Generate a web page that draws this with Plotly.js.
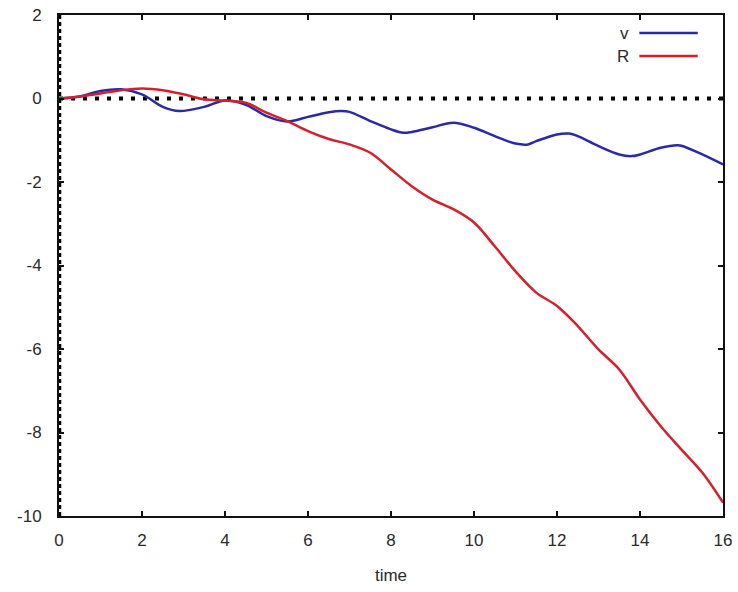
<!DOCTYPE html>
<html>
<head>
<meta charset="utf-8">
<script src="https://cdn.plot.ly/plotly-3.0.1.min.js"></script>
<style>html,body{margin:0;padding:0;background:#fff;}#chart{width:738px;height:592px;}</style>
</head>
<body>
<div id="chart"></div>
<script>
// Data
const timeV = [0, 0.5, 1, 1.5, 2, 2.5, 2.9, 3.5, 4, 4.5, 5, 5.5, 6, 6.5, 6.8, 7, 7.5, 8, 8.3, 8.5, 9, 9.5, 10, 10.5, 11, 11.3, 11.5, 12, 12.3, 12.5, 13, 13.5, 13.8, 14, 14.5, 14.9, 15, 15.5, 16];
const vValues = [0, 0.05, 0.18, 0.22, 0.1, -0.2, -0.3, -0.2, -0.05, -0.15, -0.42, -0.55, -0.44, -0.33, -0.3, -0.32, -0.54, -0.74, -0.82, -0.8, -0.69, -0.58, -0.7, -0.9, -1.08, -1.1, -1.02, -0.86, -0.84, -0.9, -1.14, -1.34, -1.38, -1.34, -1.18, -1.12, -1.13, -1.34, -1.58];

const timeR = [0, 0.5, 1, 1.5, 2, 2.5, 3, 3.5, 4, 4.5, 5, 5.5, 6, 6.5, 7, 7.5, 8, 8.5, 9, 9.5, 10, 10.5, 11, 11.5, 12, 12.5, 13, 13.5, 14, 14.5, 15, 15.5, 16];
const rValues = [0, 0.05, 0.12, 0.2, 0.24, 0.2, 0.1, -0.02, -0.05, -0.1, -0.34, -0.54, -0.78, -0.97, -1.1, -1.3, -1.7, -2.1, -2.42, -2.65, -2.97, -3.54, -4.14, -4.65, -4.97, -5.45, -6.01, -6.49, -7.21, -7.85, -8.41, -8.96, -9.68];

const seriesNames = ['v', 'R'];
const xTicks = [0, 2, 4, 6, 8, 10, 12, 14, 16];
const yTicks = [2, 0, -2, -4, -6, -8, -10];
const xLabel = 'time';

const blue = '#2a2aa6';
const red = '#d4202c';
const font = {family: 'Liberation Sans, Arial, sans-serif', size: 17, color: '#2a2a2a'};

const traces = [
  {x: timeV, y: vValues, name: seriesNames[0], mode: 'lines', line: {color: blue, width: 2.5, shape: 'spline', smoothing: 1}, showlegend: false},
  {x: timeR, y: rValues, name: seriesNames[1], mode: 'lines', line: {color: red, width: 2.5, shape: 'spline', smoothing: 1}, showlegend: false}
];

const axisCommon = {
  showgrid: false, zeroline: false, showline: true, linecolor: '#111', linewidth: 2,
  mirror: 'allticks', ticks: 'inside', ticklen: 5, tickwidth: 2, tickcolor: '#111',
  tickfont: font
};

const layout = {
  width: 738, height: 592,
  margin: {l: 59, r: 15, t: 15, b: 76},
  paper_bgcolor: '#fff', plot_bgcolor: '#fff',
  font: font,
  xaxis: Object.assign({}, axisCommon, {range: [0, 16], tickvals: xTicks, ticktext: xTicks.map(String), ticklabelstandoff: 8,
    title: {text: xLabel, font: font, standoff: 20}}),
  yaxis: Object.assign({}, axisCommon, {range: [-10, 2], tickvals: yTicks, ticktext: yTicks.map(String), ticklabelstandoff: 12}),
  shapes: [
    {type: 'line', xref: 'x', yref: 'y', x0: 0, x1: 16, y0: 0, y1: 0, line: {color: '#000', width: 4, dash: '4px,8px'}, layer: 'below'},
    {type: 'line', xref: 'x', yref: 'y', x0: 0, x1: 0, y0: -10, y1: 2, line: {color: '#000', width: 4.5, dash: '4px,3px'}, layer: 'above'},
    {type: 'line', xref: 'paper', yref: 'paper', x0: 0.874, x1: 0.962, y0: 0.964, y1: 0.964, line: {color: blue, width: 2.5}},
    {type: 'line', xref: 'paper', yref: 'paper', x0: 0.874, x1: 0.962, y0: 0.918, y1: 0.918, line: {color: red, width: 2.5}}
  ],
  annotations: [
    {xref: 'paper', yref: 'paper', x: 0.862, y: 0.964, text: seriesNames[0], showarrow: false, xanchor: 'right', yanchor: 'middle', font: font},
    {xref: 'paper', yref: 'paper', x: 0.862, y: 0.918, text: seriesNames[1], showarrow: false, xanchor: 'right', yanchor: 'middle', font: font}
  ]
};

Plotly.newPlot('chart', traces, layout, {displayModeBar: false, staticPlot: true});
</script>
</body>
</html>
